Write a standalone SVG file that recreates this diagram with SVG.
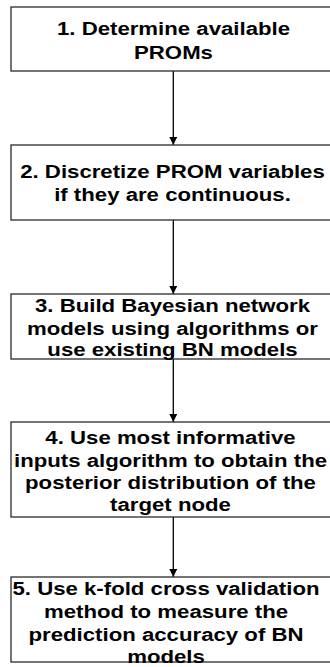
<svg xmlns="http://www.w3.org/2000/svg" width="330" height="667" viewBox="0 0 330 667">
  <style>
    .box { fill: #ffffff; stroke: #2a2a2a; stroke-width: 1.3; }
    .lbl { font-family: "Liberation Sans", Arial, Helvetica, sans-serif; font-weight: bold; font-size: 18.5px; fill: #000000; text-anchor: middle; }
    .edge { stroke: #000000; stroke-width: 1.3; fill: none; marker-end: url(#arrow); }
  </style>
  <defs>
    <marker id="arrow" markerWidth="10" markerHeight="10" refX="8" refY="4" orient="auto" markerUnits="userSpaceOnUse">
      <path d="M0,0 L8,4 L0,8 Z" fill="#000000"/>
    </marker>
  </defs>
  <rect width="330" height="667" fill="#ffffff"/>

  <g id="connectors">
    <line class="edge" x1="173.3" y1="71" x2="173.3" y2="145"/>
    <line class="edge" x1="173.3" y1="220" x2="173.3" y2="294"/>
    <line class="edge" x1="173.3" y1="359" x2="173.3" y2="422"/>
    <line class="edge" x1="173.3" y1="517" x2="173.3" y2="577"/>
  </g>

  <g id="step1">
    <rect class="box" x="11" y="7" width="330" height="64"/>
    <g transform="translate(173.5,0) scale(1.2,1)">
      <text class="lbl" x="0" y="35">1. Determine available</text>
      <text class="lbl" x="0" y="59">PROMs</text>
    </g>
  </g>

  <g id="step2">
    <rect class="box" x="11" y="145" width="330" height="75"/>
    <g transform="translate(172.5,0) scale(1.2,1)">
      <text class="lbl" x="0" y="177.7">2. Discretize PROM variables</text>
      <text class="lbl" x="0" y="201">if they are continuous.</text>
    </g>
  </g>

  <g id="step3">
    <rect class="box" x="11" y="294" width="330" height="65"/>
    <g transform="translate(172.5,0) scale(1.2,1)">
      <text class="lbl" x="0" y="311.7">3. Build Bayesian network</text>
      <text class="lbl" x="0" y="335">models using algorithms or</text>
      <text class="lbl" x="0" y="356">use existing BN models</text>
    </g>
  </g>

  <g id="step4">
    <rect class="box" x="11" y="422" width="330" height="95"/>
    <g transform="translate(170.5,0) scale(1.2,1)">
      <text class="lbl" x="0" y="444">4. Use most informative</text>
      <text class="lbl" x="0" y="467">inputs algorithm to obtain the</text>
      <text class="lbl" x="0" y="489.5">posterior distribution of the</text>
      <text class="lbl" x="0" y="511.5">target node</text>
    </g>
  </g>

  <g id="step5">
    <rect class="box" x="11" y="577" width="330" height="85"/>
    <g transform="translate(166,0) scale(1.2,1)">
      <text class="lbl" x="0" y="595">5. Use k-fold cross validation</text>
      <text class="lbl" x="0" y="618">method to measure the</text>
      <text class="lbl" x="0" y="641.5">prediction accuracy of BN</text>
      <text class="lbl" x="0" y="663.5">models</text>
    </g>
  </g>
</svg>
